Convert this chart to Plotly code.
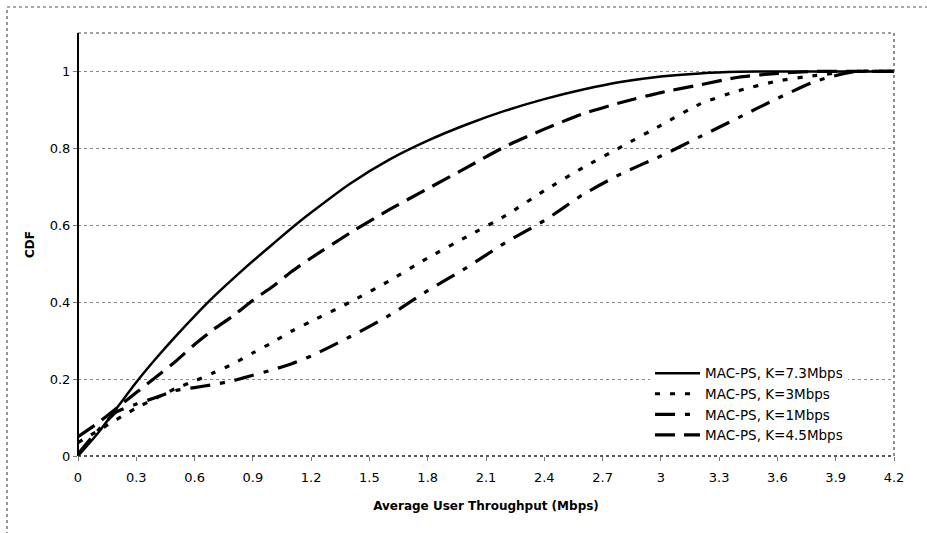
import plotly.graph_objects as go

x_vals = [0, 0.1, 0.2, 0.3, 0.4, 0.5, 0.6, 0.7, 0.8, 0.9, 1.0, 1.1, 1.2, 1.4, 1.6,
          1.8, 2.0, 2.2, 2.4, 2.6, 2.8, 3.0, 3.2, 3.4, 3.6, 3.8, 4.0, 4.2]

cdf_k73 = [0, 0.058, 0.125, 0.192, 0.253, 0.31, 0.364, 0.415, 0.462, 0.507, 0.55, 0.593,
           0.633, 0.708, 0.77, 0.82, 0.862, 0.898, 0.928, 0.953, 0.973, 0.987, 0.995, 0.999,
           1.0, 1.0, 1.0, 1.0]
cdf_k3 = [0.035, 0.065, 0.095, 0.125, 0.15, 0.175, 0.195, 0.217, 0.24, 0.268, 0.295, 0.325,
          0.35, 0.40, 0.455, 0.515, 0.57, 0.625, 0.69, 0.75, 0.805, 0.86, 0.915, 0.95,
          0.975, 0.99, 1.0, 1.0]
cdf_k1 = [0.005, 0.065, 0.115, 0.135, 0.152, 0.17, 0.178, 0.186, 0.196, 0.21, 0.224, 0.24,
          0.26, 0.31, 0.365, 0.43, 0.49, 0.555, 0.612, 0.68, 0.735, 0.78, 0.83, 0.88,
          0.93, 0.975, 1.0, 1.0]
cdf_k45 = [0.05, 0.085, 0.125, 0.165, 0.205, 0.245, 0.29, 0.33, 0.365, 0.405, 0.44, 0.48,
           0.515, 0.58, 0.64, 0.695, 0.75, 0.805, 0.85, 0.89, 0.92, 0.945, 0.965, 0.985,
           0.995, 1.0, 1.0, 1.0]

series_names = ["MAC-PS, K=7.3Mbps", "MAC-PS, K=3Mbps", "MAC-PS, K=1Mbps", "MAC-PS, K=4.5Mbps"]
series_vals = [cdf_k73, cdf_k3, cdf_k1, cdf_k45]
dashes = ["solid", "5px,10px", "20px,10px,5px,10px", "20px,9px"]
widths = [2.5, 3.2, 3.2, 3.2]

x_ticks = [0, 0.3, 0.6, 0.9, 1.2, 1.5, 1.8, 2.1, 2.4, 2.7, 3, 3.3, 3.6, 3.9, 4.2]
x_ticktext = ["0", "0.3", "0.6", "0.9", "1.2", "1.5", "1.8", "2.1", "2.4", "2.7", "3",
              "3.3", "3.6", "3.9", "4.2"]
y_ticks = [0, 0.2, 0.4, 0.6, 0.8, 1]
y_ticktext = ["0", "0.2", "0.4", "0.6", "0.8", "1"]

fig = go.Figure()
for name, vals, d, w in zip(series_names, series_vals, dashes, widths):
    fig.add_trace(go.Scatter(
        x=x_vals, y=vals, name=name, mode="lines",
        line=dict(color="black", width=w, dash=d, shape="spline", smoothing=0.6),
    ))

FONT = "DejaVu Sans"
fig.update_layout(
    width=927, height=533,
    margin=dict(l=78, r=33, t=33, b=77),
    paper_bgcolor="white", plot_bgcolor="white",
    font=dict(family=FONT, size=12, color="black"),
    showlegend=True,
    legend=dict(
        x=0.701, y=0.012, xanchor="left", yanchor="bottom",
        bgcolor="white", borderwidth=0, itemwidth=45,
        font=dict(family=FONT, size=13.5, color="black"),
        tracegroupgap=0,
    ),
    xaxis=dict(
        range=[0, 4.2], tickmode="array", tickvals=x_ticks, ticktext=x_ticktext,
        showgrid=False, zeroline=False, showline=False,
        ticks="outside", ticklen=4, tickcolor="#777",
        ticklabelstandoff=5,
        tickfont=dict(family=FONT, size=13),
        title=dict(text="<b>Average User Throughput (Mbps)</b>",
                   font=dict(family=FONT, size=12), standoff=18),
    ),
    yaxis=dict(
        range=[0, 1.1], tickmode="array", tickvals=y_ticks, ticktext=y_ticktext,
        showgrid=True, gridcolor="#888", griddash="dot", gridwidth=1,
        zeroline=False, showline=False,
        ticks="outside", ticklen=4, tickcolor="#777",
        tickfont=dict(family=FONT, size=13),
        title=dict(text="<b>CDF</b>", font=dict(family=FONT, size=12), standoff=12),
    ),
)

# plot-area frame: top/right dotted, left/bottom axes solid
fig.add_shape(type="line", xref="paper", yref="paper", x0=0, x1=1, y0=1, y1=1,
              line=dict(color="#444", width=1.2, dash="dot"))
fig.add_shape(type="line", xref="paper", yref="paper", x0=1, x1=1, y0=0, y1=1,
              line=dict(color="#444", width=1.2, dash="dot"))
fig.add_shape(type="line", xref="paper", yref="paper", x0=0, x1=0, y0=0, y1=1,
              line=dict(color="black", width=2))
fig.add_shape(type="line", xref="paper", yref="paper", x0=0, x1=1, y0=0, y1=0,
              line=dict(color="#222", width=1.5, dash="dot"))
# outer chart frame (dotted)
fig.add_shape(type="line", xref="paper", yref="paper", x0=-0.087, x1=1.2, y0=1.0615, y1=1.0615,
              line=dict(color="#555", width=1.2, dash="dot"))
fig.add_shape(type="line", xref="paper", yref="paper", x0=-0.087, x1=-0.087, y0=-0.3, y1=1.0615,
              line=dict(color="#555", width=1.2, dash="dot"))

fig.write_html("out.html")
